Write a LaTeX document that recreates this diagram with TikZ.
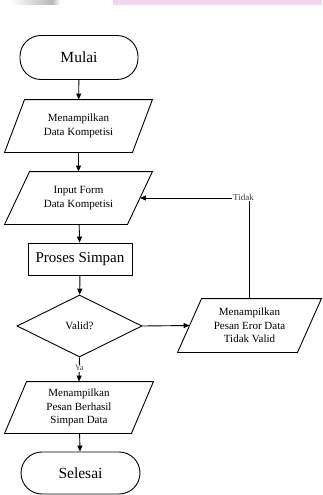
\documentclass[tikz,border=0pt]{standalone}
\usepackage{fontspec}
\setmainfont{Liberation Serif}
\usetikzlibrary{shapes.geometric,arrows.meta}

\definecolor{bandpink}{RGB}{242,214,238}
\definecolor{bandgray}{RGB}{185,185,185}

% outline of a slanted input/output box around a rectangular node:
% #1 node name, #2 horizontal slant offset
\newcommand{\ioframe}[2]{%
  \draw ([xshift=#2]#1.north west) -- (#1.north east)
        -- ([xshift=-#2]#1.south east) -- (#1.south west) -- cycle;}

\begin{document}
\begin{tikzpicture}[x=1pt,y=-1pt,line width=0.9pt,
  every node/.style={font=\fontsize{11}{13.5}\selectfont, align=center, inner sep=0pt},
  term/.style={draw, rectangle, rounded corners=21pt, minimum width=118pt, minimum height=44pt,
               font=\fontsize{15.5}{18}\selectfont},
  io/.style={rectangle, minimum width=147pt, minimum height=52pt},
  proc/.style={draw, rectangle, minimum width=104pt, minimum height=32pt,
               font=\fontsize{15}{18}\selectfont},
  dec/.style={draw, diamond, minimum width=125pt, minimum height=62pt},
  arr/.style={draw, -{Triangle[length=6pt,width=5pt]}},
  lbl/.style={fill=white, text=black!75, inner sep=1pt}]

  \useasboundingbox (0,0) rectangle (322,495);

  % faint coloured strip along the top edge
  \fill[left color=white, right color=bandgray, draw=none] (10,0) rectangle (52,5);
  \fill[left color=bandgray, right color=white, draw=none] (52,0) rectangle (60,5);
  \fill[bandpink] (113,0) rectangle (322,5);

  % main flow
  \node[term] (start) at (79,57.5) {Mulai};
  \node[io] (show) at (78.5,126) {Menampilkan\\Data Kompetisi};
  \ioframe{show}{20pt}
  \node[io] (input) at (78.5,198) {Input Form\\Data Kompetisi};
  \ioframe{input}{25pt}
  \node[proc] (save) at (80,259) {Proses Simpan};
  \node[dec] (valid) at (79.5,326) {Valid?};
  \node[io, minimum width=143pt, minimum height=53pt] (err) at (249.5,325.5)
       {Menampilkan\\Pesan Eror Data\\Tidak Valid};
  \ioframe{err}{24pt}
  \node[io, minimum width=148pt, minimum height=51pt] (ok) at (79,407.5)
       {Menampilkan\\Pesan Berhasil\\Simpan Data};
  \ioframe{ok}{22pt}
  \node[term, minimum width=119pt, minimum height=42pt] (end) at (80.5,473) {Selesai};

  % connectors
  \draw[arr] (start) -- (show);
  \draw[arr] (show) -- (input);
  \draw[arr] (input) -- (save);
  \draw[arr] (save) -- (valid);
  \draw[arr] (valid.east) -- ([xshift=12pt]err.west);
  \draw[arr] (err.north) |- node[lbl, pos=0.5, xshift=-6pt, yshift=1pt,
        font=\fontsize{9}{10}\selectfont] {Tidak} ([xshift=-12.5pt]input.east);
  \draw[arr] (valid.south) -- node[lbl, pos=0.45, font=\fontsize{8}{9}\selectfont] {Ya} (ok.north);
  \draw[arr] (ok) -- (end);
\end{tikzpicture}
\end{document}
